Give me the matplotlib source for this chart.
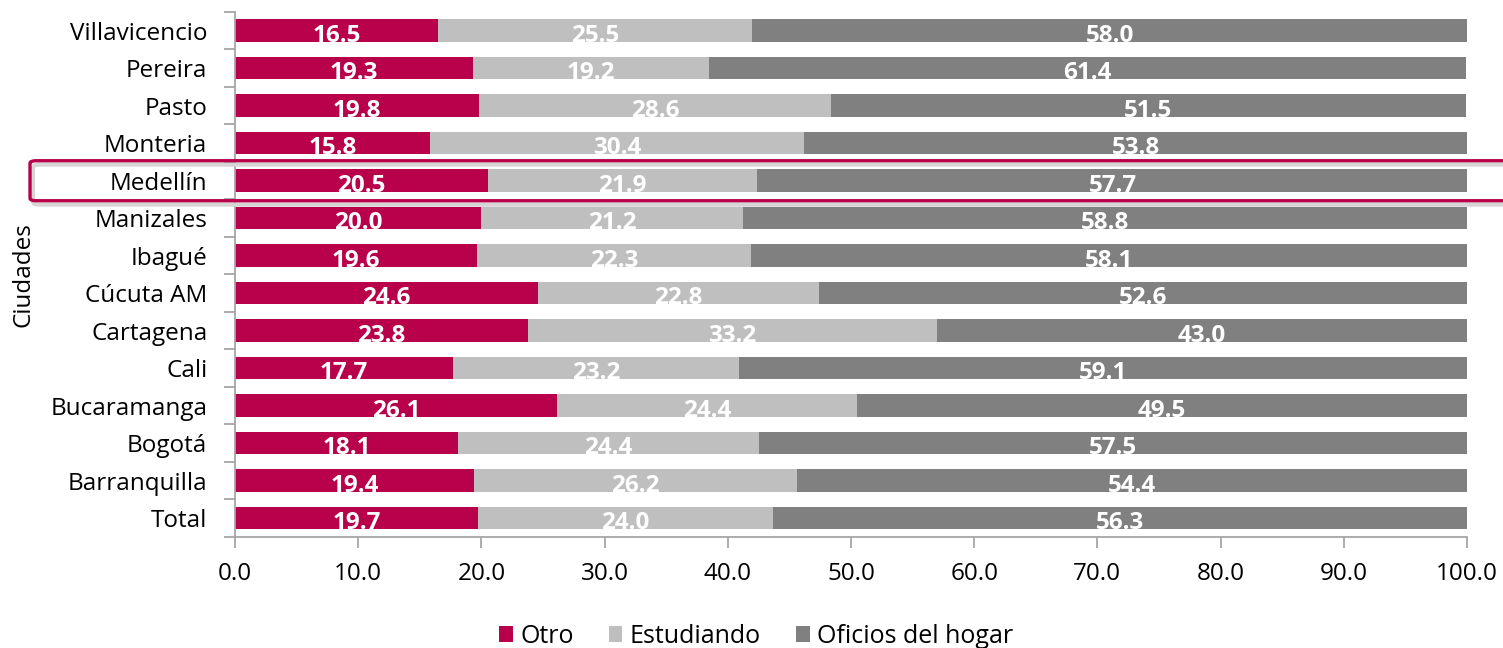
import matplotlib
matplotlib.use("Agg")
import matplotlib.pyplot as plt
from matplotlib.patches import FancyBboxPatch, Patch
import numpy as np

categories = ["Total", "Barranquilla", "Bogotá", "Bucaramanga", "Cali", "Cartagena",
              "Cúcuta AM", "Ibagué", "Manizales", "Medellín", "Monteria", "Pasto",
              "Pereira", "Villavicencio"]
otro = [19.7, 19.4, 18.1, 26.1, 17.7, 23.8, 24.6, 19.6, 20.0, 20.5, 15.8, 19.8, 19.3, 16.5]
estudiando = [24.0, 26.2, 24.4, 24.4, 23.2, 33.2, 22.8, 22.3, 21.2, 21.9, 30.4, 28.6, 19.2, 25.5]
oficios = [56.3, 54.4, 57.5, 49.5, 59.1, 43.0, 52.6, 58.1, 58.8, 57.7, 53.8, 51.5, 61.4, 58.0]
series_names = ["Otro", "Estudiando", "Oficios del hogar"]
xticks = [0, 10, 20, 30, 40, 50, 60, 70, 80, 90, 100]
highlight = "Medellín"

colors = ["#B8004B", "#BFBFBF", "#808080"]
plt.rcParams['font.family'] = ['Open Sans', 'DejaVu Sans']
FS = 17.5

fig = plt.figure(figsize=(15.03, 6.48), dpi=100)
ax = fig.add_axes([0.1564, 0.1713, 0.976 - 0.1564, 0.9815 - 0.1713])

y = np.arange(len(categories))
left = np.zeros(len(categories))
for vals, col in zip([otro, estudiando, oficios], colors):
    vals = np.array(vals)
    ax.barh(y, vals, left=left, height=0.6, color=col, edgecolor='none')
    for yi, l, v in zip(y, left, vals):
        ax.text(l + v / 2, yi - 0.29, f"{v:.1f}", ha='center', va='baseline',
                color='white', fontsize=17.5, fontweight='bold')
    left = left + vals

ax.set_xlim(0, 100)
ax.set_ylim(-0.5, len(categories) - 0.5)
ax.set_xticks(xticks)
ax.set_xticklabels([f"{v:.1f}" for v in xticks], fontsize=FS)
ax.set_yticks(y)
ax.set_yticklabels(categories, fontsize=FS)
ax.set_yticks(np.arange(-0.5, len(categories), 1.0), minor=True)
ax.tick_params(axis='y', which='major', length=0, pad=20)
ax.tick_params(axis='y', which='minor', length=8, color='#A6A6A6', width=1.3)
ax.tick_params(axis='x', which='major', length=8, color='#A6A6A6', width=1.3, pad=10)
for s in ['top', 'right']:
    ax.spines[s].set_visible(False)
for s in ['left', 'bottom']:
    ax.spines[s].set_color('#A6A6A6')
    ax.spines[s].set_linewidth(1.3)
ax.set_ylabel("Ciudades", fontsize=FS)
ax.yaxis.set_label_coords(-0.162, 0.5)

handles = [Patch(facecolor=c, edgecolor='none') for c in colors]
fig.legend(handles, series_names, loc='center', bbox_to_anchor=(0.503, 0.018),
           ncol=3, frameon=False, fontsize=18, handlelength=0.55, handleheight=0.55,
           handletextpad=0.3, columnspacing=1.4)

# highlight box around Medellín row
idx = categories.index(highlight)
x0 = 30 / 1503
y_center = ax.transData.transform((0, idx))[1] / fig.bbox.height
h = 40 / 648
shadow = FancyBboxPatch((x0 + 0.002, y_center - h / 2 - 0.006), 1.1, h,
                        boxstyle="round,pad=0,rounding_size=0.004",
                        transform=fig.transFigure, fill=False,
                        edgecolor='#D5D5D5', linewidth=3, clip_on=False, zorder=9)
fig.patches.append(shadow)
box = FancyBboxPatch((x0, y_center - h / 2), 1.1, h,
                     boxstyle="round,pad=0,rounding_size=0.004",
                     transform=fig.transFigure, fill=False,
                     edgecolor='#B8004B', linewidth=2.4, clip_on=False, zorder=10)
fig.patches.append(box)

fig.savefig("out.png", dpi=100)
